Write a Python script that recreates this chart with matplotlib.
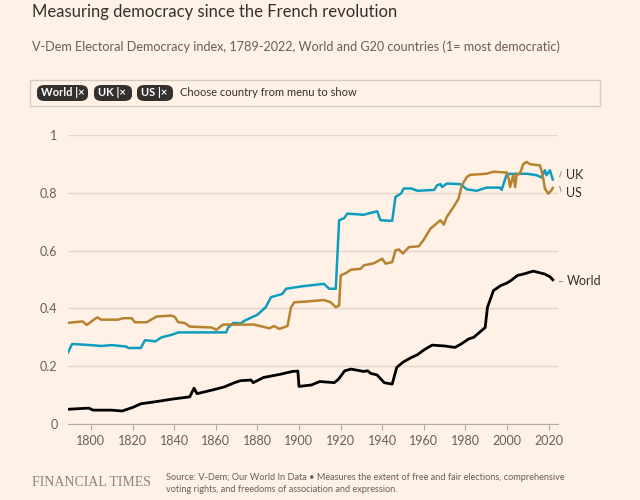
import numpy as np
import matplotlib.pyplot as plt
from matplotlib.patches import FancyBboxPatch, Rectangle

# V-Dem electoral democracy index
world_years = [1789, 1799, 1801, 1810, 1815, 1820, 1824, 1831, 1839, 1847.5, 1849.6, 1851,
               1858, 1864, 1869, 1872, 1877, 1878, 1883, 1891, 1897, 1899.5, 1900, 1906,
               1910, 1917, 1919, 1922, 1925, 1931, 1933, 1934.5, 1937.5, 1941, 1944.8,
               1947, 1950, 1954, 1957, 1960, 1964, 1970, 1975, 1978, 1981.5, 1984,
               1989.5, 1990.6, 1993.5, 1997, 2000, 2002, 2005, 2008, 2012.6, 2018,
               2020.6, 2022]
world_vals = [0.051, 0.055, 0.048, 0.048, 0.045, 0.057, 0.070, 0.077, 0.086, 0.094, 0.124, 0.105,
              0.117, 0.128, 0.143, 0.150, 0.152, 0.143, 0.161, 0.172, 0.182, 0.183, 0.130, 0.135,
              0.147, 0.143, 0.155, 0.184, 0.190, 0.182, 0.184, 0.175, 0.170, 0.143, 0.138,
              0.196, 0.214, 0.230, 0.240, 0.256, 0.273, 0.270, 0.265, 0.277, 0.294, 0.300,
              0.334, 0.404, 0.462, 0.479, 0.488, 0.497, 0.514, 0.519, 0.529, 0.519,
              0.510, 0.499]

uk_years = [1789, 1791, 1800, 1805, 1810, 1817, 1818, 1824, 1826, 1831, 1834, 1839, 1842,
            1865, 1866, 1868.5, 1872, 1874, 1880, 1884, 1886.6, 1892, 1893.8, 1901, 1912,
            1914.5, 1917.7, 1919.3, 1921.7, 1923.3, 1931, 1937.6, 1939.2, 1944.8, 1946.4,
            1949, 1950.4, 1954, 1957, 1965, 1966.4, 1968, 1968.8, 1971, 1977.5, 1980.7,
            1985.4, 1990.2, 1996.6, 1997.4, 1999.9, 2009.4, 2014.2, 2016.6, 2018.2, 2019,
            2020.6, 2022]
uk_vals = [0.248, 0.277, 0.273, 0.270, 0.273, 0.268, 0.263, 0.263, 0.290, 0.286, 0.300, 0.309, 0.317,
           0.317, 0.334, 0.350, 0.348, 0.358, 0.378, 0.404, 0.439, 0.450, 0.468, 0.476, 0.485,
           0.468, 0.468, 0.705, 0.712, 0.728, 0.724, 0.736, 0.705, 0.703, 0.786,
           0.797, 0.815, 0.815, 0.807, 0.810, 0.826, 0.830, 0.820, 0.832, 0.830, 0.812,
           0.807, 0.818, 0.818, 0.810, 0.865, 0.866, 0.861, 0.853, 0.878, 0.861,
           0.878, 0.846]

us_years = [1789, 1796, 1798, 1803, 1805, 1813, 1815.5, 1819.6, 1821.2, 1826.8, 1828.5, 1831.6,
            1838.8, 1840.4, 1842, 1845, 1847.5, 1858, 1860.3, 1863.5, 1878.6, 1885.8, 1888,
            1890.6, 1894.5, 1896.2, 1897.8, 1904, 1912, 1915.3, 1917.7, 1919.3, 1920.1,
            1922.5, 1925, 1929.7, 1931.2, 1936, 1940, 1941.6, 1944.8, 1946.4, 1948, 1950,
            1952.8, 1957.6, 1960, 1963.2, 1968, 1969.6, 1971, 1974.3, 1976.7, 1978.3,
            1980.7, 1982.3, 1990.2, 1993.4, 1999.9, 2000.7, 2001.5, 2003, 2003.9, 2004.6,
            2006.2, 2007.8, 2009.4, 2011, 2015.8, 2017, 2018.2, 2019.8, 2021.4, 2022]
us_vals = [0.350, 0.355, 0.343, 0.369, 0.361, 0.361, 0.366, 0.366, 0.352, 0.352, 0.359, 0.372,
           0.375, 0.370, 0.352, 0.350, 0.337, 0.334, 0.326, 0.344, 0.344, 0.331, 0.339,
           0.329, 0.339, 0.404, 0.421, 0.424, 0.429, 0.421, 0.404, 0.410, 0.514,
           0.522, 0.534, 0.537, 0.549, 0.556, 0.572, 0.555, 0.560, 0.601, 0.604, 0.590,
           0.612, 0.615, 0.638, 0.676, 0.705, 0.690, 0.716, 0.751, 0.780, 0.826,
           0.855, 0.862, 0.866, 0.873, 0.870, 0.852, 0.820, 0.862, 0.820, 0.862,
           0.866, 0.899, 0.907, 0.899, 0.895, 0.866, 0.815, 0.797, 0.809, 0.817]

xticks = [1800, 1820, 1840, 1860, 1880, 1900, 1920, 1940, 1960, 1980, 2000, 2020]
yticks = [0, 0.2, 0.4, 0.6, 0.8, 1]
ylabels = ['0', '0.2', '0.4', '0.6', '0.8', '1']

bg = '#fff1e5'
grey = '#66605c'
font = 'Lato'

fig = plt.figure(figsize=(6.4, 5), dpi=100, facecolor=bg)
ax = fig.add_axes([68/640, 76/500, 490/640, 289/500], facecolor=bg)

ax.plot(world_years, world_vals, color='#000000', lw=2.0, solid_joinstyle='round')
ax.plot(uk_years, uk_vals, color='#0f9dbf', lw=1.8, solid_joinstyle='round')
ax.plot(us_years, us_vals, color='#b5832f', lw=1.8, solid_joinstyle='round')

ax.set_xlim(1789, 2024.5)
ax.set_ylim(0, 1)
ax.set_yticks(yticks)
ax.set_yticklabels(ylabels)
ax.set_xticks(xticks)
ax.grid(axis='y', color='#e3d6ca', lw=1)
ax.set_axisbelow(True)
for s in ['top', 'right', 'left']:
    ax.spines[s].set_visible(False)
ax.spines['bottom'].set_color('#b3aaa3')
ax.tick_params(axis='y', length=0, pad=7.5, labelsize=9, labelcolor=grey)
ax.tick_params(axis='x', length=4, color='#b3aaa3', pad=4, labelsize=9, labelcolor=grey)
for lab in ax.get_xticklabels() + ax.get_yticklabels():
    lab.set_fontfamily(font)

# end labels with small leaders
ax.annotate('UK', xy=(uk_years[-1], uk_vals[-1]), xytext=(2028.5, 0.862),
            fontsize=9, color='#33302e', family=font, va='center',
            annotation_clip=False)
ax.annotate('US', xy=(us_years[-1], us_vals[-1]), xytext=(2028.5, 0.798),
            fontsize=9, color='#33302e', family=font, va='center',
            annotation_clip=False)
ax.annotate('World', xy=(world_years[-1], world_vals[-1]), xytext=(2028.5, 0.496),
            fontsize=9, color='#33302e', family=font, va='center',
            annotation_clip=False)
ax.plot([2025.3, 2026.0], [0.855, 0.872], color='#a09890', lw=0.8, clip_on=False)
ax.plot([2025.3, 2026.0], [0.822, 0.806], color='#a09890', lw=0.8, clip_on=False)
ax.plot([2025.0, 2026.3], [0.496, 0.496], color='#a09890', lw=0.8, clip_on=False)

# titles
fig.text(32/640, 1 - 12/500, 'Measuring democracy since the French revolution',
         fontsize=12, color='#33302e', family=font, va='center')
fig.text(32/640, 1 - 47/500,
         'V-Dem Electoral Democracy index, 1789-2022, World and G20 countries (1= most democratic)',
         fontsize=9.1, color=grey, family=font, va='center')

# country selector box
fig.patches.append(Rectangle((30/640, 1 - 106/500), 570/640, 26/500,
                             transform=fig.transFigure, facecolor=bg,
                             edgecolor='#d4cbc3', lw=1))
chips = [('World', 37, 51), ('UK', 94, 38), ('US', 137, 36)]
for name, x0, w in chips:
    fig.patches.append(FancyBboxPatch((x0/640, 1 - 101/500), w/640, 16/500,
                                      boxstyle='round,pad=0,rounding_size=0.012',
                                      transform=fig.transFigure,
                                      facecolor='#33302e', edgecolor='none'))
    fig.text((x0 + 4)/640, 1 - 93/500, name + ' |\u00d7', fontsize=8, color='white',
             family=font, va='center', fontweight='bold')
fig.text(180/640, 1 - 93/500, 'Choose country from menu to show',
         fontsize=8, color='#33302e', family=font, va='center')

# footer
fig.text(32/640, 1 - 483/500, 'FINANCIAL TIMES', fontsize=10, color='#8c837c',
         family='Liberation Serif', va='center')
fig.text(166/640, 1 - 477/500,
         'Source: V-Dem; Our World In Data \u2022 Measures the extent of free and fair elections, comprehensive',
         fontsize=6.6, color=grey, family=font, va='center')
fig.text(166/640, 1 - 490/500,
         'voting rights, and freedoms of association and expression.',
         fontsize=6.6, color=grey, family=font, va='center')

fig.savefig('out.png', dpi=100, facecolor=bg)
